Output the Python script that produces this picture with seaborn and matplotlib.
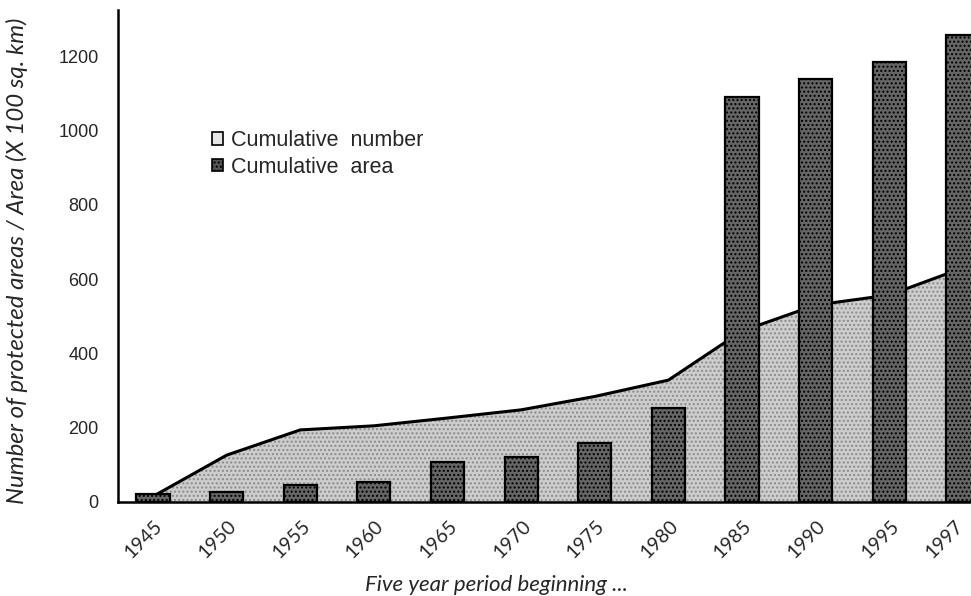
import numpy as np
import pandas as pd
import matplotlib
matplotlib.use("Agg")
import matplotlib.pyplot as plt
import matplotlib.transforms as mtransforms
import seaborn as sns
from matplotlib.patches import Patch

# Five-year periods and cumulative values
periods = ["1945", "1950", "1955", "1960", "1965", "1970",
           "1975", "1980", "1985", "1990", "1995", "1997"]
cumulative_number = [15, 126, 194, 205, 226, 248, 284, 328, 460, 530, 557, 630]
cumulative_area = [22, 27, 46, 55, 108, 121, 159, 253, 1090, 1139, 1184, 1257]
y_ticks = [0, 200, 400, 600, 800, 1000, 1200]

df = pd.DataFrame({"period": periods,
                   "number": cumulative_number,
                   "area": cumulative_area})
df["pos"] = np.arange(len(df))

sns.set_theme(style="white")
plt.rcParams["font.family"] = ["Liberation Sans", "DejaVu Sans"]

fig = plt.figure(figsize=(9.71, 5.96), dpi=100)
ax = fig.add_axes([118 / 971, 1 - 502 / 596, 1 - 118 / 971, (502 - 10) / 596])

# Cumulative number as a stippled area
ax.fill_between(df["pos"], 0, df["number"], color="#cdcdcd",
                hatch="....", edgecolor="#8a8a8a", linewidth=0, zorder=1)
sns.lineplot(data=df, x="pos", y="number", color="black", lw=2.2,
             ax=ax, zorder=2, legend=False)

# Cumulative area as dark bars
plt.rcParams["hatch.color"] = "#2a2a2a"
sns.barplot(data=df, x="pos", y="area", color="#666666", width=0.45,
            edgecolor="black", linewidth=1.6, saturation=1, ax=ax,
            native_scale=True, zorder=3)
for p in ax.patches:
    p.set_hatch("....")

ax.set_xlim(-0.475, 11.11)
ax.set_ylim(0, 1324)
ax.set_yticks(y_ticks)
ax.set_yticklabels([str(v) for v in y_ticks], fontsize=13)
ax.set_xticks(df["pos"])
ax.tick_params(axis="x", length=0, pad=11)
ax.tick_params(axis="y", length=0, pad=14)
ax.set_xticklabels(periods, rotation=45, ha="right", rotation_mode="anchor",
                   fontsize=14, family="Lato")
labels = ax.get_xticklabels()
for i, lbl in enumerate(labels):
    dx = 1 if i < len(labels) - 1 else -9  # keep the last label on the canvas
    shift = mtransforms.ScaledTranslation(dx / 100, 0, fig.dpi_scale_trans)
    lbl.set_transform(lbl.get_transform() + shift)

for side in ["top", "right"]:
    ax.spines[side].set_visible(False)
for side in ["left", "bottom"]:
    ax.spines[side].set_color("black")
    ax.spines[side].set_linewidth(1.8)

ax.set_ylabel("Number of protected areas / Area (X 100 sq. km)",
              family="Lato", style="italic", fontsize=17.3)
ax.yaxis.set_label_coords(-0.106, 0.49)
ax.set_xlabel("")
fig.text(496 / 971, 1 - 585 / 596, "Five year period beginning ...",
         family="Lato", style="italic", fontsize=16, ha="center", va="center")

handles = [Patch(facecolor="#e6e6e6", edgecolor="black", linewidth=1.2),
           Patch(facecolor="#555555", edgecolor="black", linewidth=1.2,
                 hatch="....")]
ax.legend(handles, ["Cumulative  number", "Cumulative  area"],
          loc="upper left", bbox_to_anchor=(0.087, 0.795), frameon=False,
          fontsize=15.5, handlelength=0.55, handleheight=0.55,
          handletextpad=0.35, labelspacing=0.25)

fig.savefig("out.png", dpi=100)
